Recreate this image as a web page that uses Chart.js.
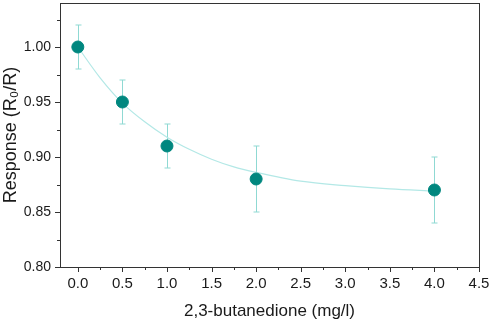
<!DOCTYPE html>
<html>
<head>
<meta charset="utf-8">
<script src="https://cdn.jsdelivr.net/npm/chart.js@4"></script>
<style>
  html, body { margin: 0; padding: 0; background: #ffffff; }
  #graficoResposta { display: block; }
</style>
</head>
<body>
<canvas id="graficoResposta" width="498" height="325"></canvas>
<script>
// dados medidos
const concentracao = [0, 0.5, 1.0, 2.0, 4.0];
const resposta = [1.00, 0.95, 0.91, 0.88, 0.87];
const erro = [0.02, 0.02, 0.02, 0.03, 0.03];

// curva de ajuste
const ajusteX = [0, 0.25, 0.5, 0.75, 1.0, 1.25, 1.5, 1.75, 2.0, 2.5, 3.0, 3.5, 4.0];
const ajusteY = [1.000, 0.972, 0.949, 0.932, 0.918, 0.907, 0.898, 0.891, 0.886, 0.878, 0.874, 0.871, 0.869];

const ticksX = [0, 0.5, 1.0, 1.5, 2.0, 2.5, 3.0, 3.5, 4.0, 4.5];
const ticksY = [0.80, 0.85, 0.90, 0.95, 1.00];
const minorX = [0.25, 0.75, 1.25, 1.75, 2.25, 2.75, 3.25, 3.75, 4.25];
const minorY = [0.825, 0.875, 0.925, 0.975, 1.025];

const corPonto = "#00877f";
const corErro = "#8fd9d3";
const corAjuste = "#b3e8e6";
const corEixo = "#333333";
const corTexto = "#1a1a1a";

const barrasErro = {
    id: "barrasErro",
    beforeDatasetsDraw(chart) {
        const ctx = chart.ctx;
        const x = chart.scales.x;
        const y = chart.scales.y;
        ctx.save();
        ctx.strokeStyle = corErro;
        ctx.lineWidth = 1;
        concentracao.forEach((c, i) => {
            const px = Math.round(x.getPixelForValue(c)) + 0.5;
            const top = y.getPixelForValue(resposta[i] + erro[i]);
            const bot = y.getPixelForValue(resposta[i] - erro[i]);
            ctx.beginPath();
            ctx.moveTo(px, top);
            ctx.lineTo(px, bot);
            ctx.moveTo(px - 3, top);
            ctx.lineTo(px + 3, top);
            ctx.moveTo(px - 3, bot);
            ctx.lineTo(px + 3, bot);
            ctx.stroke();
        });
        ctx.restore();
    }
};

const moldura = {
    id: "moldura",
    afterDraw(chart) {
        const ctx = chart.ctx;
        const a = chart.chartArea;
        const x = chart.scales.x;
        const y = chart.scales.y;
        ctx.save();
        ctx.strokeStyle = corEixo;
        ctx.lineWidth = 1;
        ctx.strokeRect(Math.round(a.left) + 0.5, Math.round(a.top) + 0.5,
            Math.round(a.right - a.left), Math.round(a.bottom - a.top));
        ctx.beginPath();
        ticksX.forEach(v => {
            const px = Math.round(x.getPixelForValue(v)) + 0.5;
            ctx.moveTo(px, a.bottom);
            ctx.lineTo(px, a.bottom + 5);
        });
        minorX.forEach(v => {
            const px = Math.round(x.getPixelForValue(v)) + 0.5;
            ctx.moveTo(px, a.bottom);
            ctx.lineTo(px, a.bottom + 3);
        });
        ticksY.forEach(v => {
            const py = Math.round(y.getPixelForValue(v)) + 0.5;
            ctx.moveTo(a.left, py);
            ctx.lineTo(a.left - 5, py);
        });
        minorY.forEach(v => {
            const py = Math.round(y.getPixelForValue(v)) + 0.5;
            ctx.moveTo(a.left, py);
            ctx.lineTo(a.left - 3, py);
        });
        ctx.stroke();
        ctx.restore();
    }
};

const fonte = "'Liberation Sans', Arial, sans-serif";

new Chart(document.getElementById("graficoResposta").getContext("2d"), {
    type: "scatter",
    data: {
        datasets: [{
            label: "Resposta",
            data: concentracao.map((c, i) => ({ x: c, y: resposta[i] })),
            backgroundColor: corPonto,
            borderColor: corPonto,
            pointRadius: 6,
            pointHoverRadius: 6,
            order: 1
        }, {
            label: "Ajuste",
            type: "line",
            data: ajusteX.map((c, i) => ({ x: c, y: ajusteY[i] })),
            borderColor: corAjuste,
            borderWidth: 1.2,
            pointRadius: 0,
            cubicInterpolationMode: "monotone",
            fill: false,
            order: 2
        }]
    },
    options: {
        responsive: false,
        animation: false,
        events: [],
        layout: {
            autoPadding: false,
            padding: { top: 3, right: 19, left: 0, bottom: 0 }
        },
        plugins: {
            legend: { display: false },
            tooltip: { enabled: false }
        },
        scales: {
            x: {
                type: "linear",
                min: -0.2,
                max: 4.5,
                afterBuildTicks: s => { s.ticks = ticksX.map(v => ({ value: v })); },
                afterFit: s => {
                    s.height = 58;
                    s.paddingLeft = 0;
                    s.paddingRight = 0;
                },
                grid: { display: false, drawTicks: false },
                border: { display: false },
                ticks: {
                    padding: 8,
                    color: corTexto,
                    font: { family: fonte, size: 15 },
                    callback: v => v.toFixed(1)
                },
                title: {
                    display: true,
                    text: "2,3-butanedione (mg/l)",
                    color: corTexto,
                    font: { family: fonte, size: 17 },
                    padding: { top: 4, bottom: 3 }
                }
            },
            y: {
                min: 0.80,
                max: 1.04,
                afterBuildTicks: s => { s.ticks = ticksY.map(v => ({ value: v })); },
                afterFit: s => {
                    s.width = 60;
                    s.paddingTop = 0;
                    s.paddingBottom = 0;
                },
                grid: { display: false, drawTicks: false },
                border: { display: false },
                ticks: {
                    padding: 9,
                    color: corTexto,
                    font: { family: fonte, size: 14 },
                    callback: v => v.toFixed(2)
                },
                title: {
                    display: true,
                    text: "Response (R₀/R)",
                    color: corTexto,
                    font: { family: fonte, size: 18 },
                    padding: { top: 0, bottom: 2 }
                }
            }
        }
    },
    plugins: [barrasErro, moldura]
});
</script>
</body>
</html>
